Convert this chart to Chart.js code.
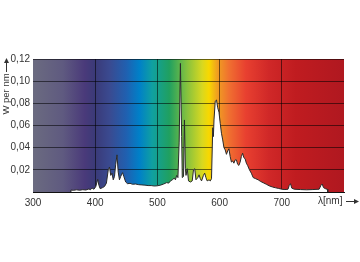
<!DOCTYPE html>
<html>
<head>
<meta charset="utf-8">
<script src="https://cdn.jsdelivr.net/npm/chart.js@4/dist/chart.umd.min.js"></script>
<style>
  html, body { margin: 0; padding: 0; background: #fff; }
  #wrap { width: 360px; height: 262px; }
</style>
</head>
<body>
<div id="wrap"><canvas id="spektrum"></canvas></div>
<script>
// Spectrum: wavelength (nm) and power (W per nm)
const dalgaBoyu = [
  360, 361, 365, 370, 375, 380, 385, 390, 392, 395, 398, 401, 404, 406, 408,
  412, 415, 418, 421, 423, 425, 427, 429, 431, 433, 435, 437, 439, 441, 444,
  446, 449, 452, 456, 460, 465, 470, 475, 480, 485, 490, 495, 500, 505, 510,
  515, 518, 521, 524, 527, 529, 531, 533, 535, 537, 539, 540, 542, 543.5, 545,
  546, 548, 550, 553, 556, 558, 560, 562, 565, 567, 569, 571, 574, 576, 578,
  580, 583, 585, 587, 589, 590, 591, 593, 595, 597, 599, 601, 603, 605, 607,
  609, 611, 613, 615, 617, 619, 621, 623, 625, 627, 629, 631, 633, 635, 637,
  639, 641, 643, 645, 648, 651, 654, 658, 662, 666, 670, 675, 680, 685, 690,
  695, 700, 705, 710, 712, 714, 716, 720, 730, 740, 750, 760, 763, 765, 767,
  770, 773, 774
];
const guc = [
  0, 0.0018, 0.0015, 0.0020, 0.0016, 0.0021, 0.0018, 0.0028, 0.0020, 0.0035, 0.0025, 0.0050, 0.0115, 0.0060, 0.0030,
  0.0040, 0.0050, 0.0080, 0.0200, 0.0225, 0.0150, 0.0170, 0.0110, 0.0140, 0.0250, 0.0335, 0.0180, 0.0110, 0.0140, 0.0175,
  0.0140, 0.0090, 0.0075, 0.0078, 0.0070, 0.0072, 0.0066, 0.0064, 0.0062, 0.0058, 0.0058, 0.0054, 0.0056, 0.0062, 0.0072,
  0.0085, 0.0080, 0.0100, 0.0110, 0.0125, 0.0110, 0.0150, 0.0130, 0.0450, 0.1160, 0.0500, 0.0130, 0.0140, 0.0650, 0.0210,
  0.0150, 0.0210, 0.0100, 0.0090, 0.0100, 0.0200, 0.0210, 0.0110, 0.0130, 0.0155, 0.0120, 0.0100, 0.0150, 0.0170, 0.0130,
  0.0100, 0.0110, 0.0100, 0.0120, 0.0580, 0.0500, 0.0650, 0.0820, 0.0830, 0.0760, 0.0720, 0.0620, 0.0530, 0.0470, 0.0400,
  0.0380, 0.0340, 0.0370, 0.0390, 0.0320, 0.0270, 0.0280, 0.0260, 0.0290, 0.0290, 0.0250, 0.0240, 0.0270, 0.0320, 0.0350,
  0.0310, 0.0300, 0.0260, 0.0240, 0.0200, 0.0170, 0.0130, 0.0120, 0.0110, 0.0095, 0.0084, 0.0070, 0.0055, 0.0045, 0.0038,
  0.0032, 0.0025, 0.0022, 0.0025, 0.0060, 0.0075, 0.0035, 0.0025, 0.0022, 0.0020, 0.0022, 0.0025, 0.0060, 0.0072, 0.0040,
  0.0030, 0.0025, 0
];
const xTikler = [300, 400, 500, 600, 700, 800];
const yTikler = [0, 0.02, 0.04, 0.06, 0.08, 0.10, 0.12];

// Colours of the visible-light band behind the plot
const bantNm = [300, 348, 383, 400, 423, 450, 471, 492, 519, 546, 572, 583, 596, 615, 642, 679, 722, 800];
const bantRenk = ['#6b6b80', '#5f5a80', '#4a3a7a', '#3a3a78', '#3a4a90', '#2060b0', '#0080c8', '#10a0a0',
  '#20a060', '#80c040', '#d8d820', '#f8d800', '#f0a020', '#f07030', '#e84030', '#d02828', '#c01c20', '#b01820'];

const yazi = '"Liberation Sans", Arial, sans-serif';

const arkaPlan = {
  id: 'arkaPlan',
  beforeDraw(chart) {
    const { ctx, chartArea: a, scales } = chart;
    const g = ctx.createLinearGradient(a.left, 0, a.right, 0);
    bantNm.forEach((nm, i) => {
      const p = (scales.x.getPixelForValue(nm) - a.left) / (a.right - a.left);
      g.addColorStop(Math.min(1, Math.max(0, p)), bantRenk[i]);
    });
    ctx.save();
    ctx.fillStyle = g;
    ctx.fillRect(a.left, a.top, a.right - a.left, a.bottom - a.top);
    ctx.restore();
  },
  afterDraw(chart) {
    const { ctx } = chart;
    ctx.save();
    ctx.fillStyle = '#333';
    ctx.strokeStyle = '#333';
    ctx.lineWidth = 1;
    ctx.font = '10px ' + yazi;
    // x axis title with arrow
    ctx.textAlign = 'left';
    ctx.textBaseline = 'middle';
    ctx.fillText('λ[nm]', 318, 201);
    ctx.beginPath();
    ctx.moveTo(346, 201.5);
    ctx.lineTo(356, 201.5);
    ctx.stroke();
    ctx.beginPath();
    ctx.moveTo(359, 201.5);
    ctx.lineTo(354, 199);
    ctx.lineTo(354, 204);
    ctx.closePath();
    ctx.fill();
    // y axis title with arrow
    ctx.font = '9.5px ' + yazi;
    ctx.translate(6, 94);
    ctx.rotate(-Math.PI / 2);
    ctx.textAlign = 'center';
    ctx.fillText('W per nm', 0, 0);
    ctx.beginPath();
    ctx.moveTo(22, 0.5);
    ctx.lineTo(33, 0.5);
    ctx.stroke();
    ctx.beginPath();
    ctx.moveTo(36, 0.5);
    ctx.lineTo(31, -2);
    ctx.lineTo(31, 3);
    ctx.closePath();
    ctx.fill();
    ctx.restore();
  }
};

const ctx = document.getElementById('spektrum');
new Chart(ctx, {
  type: 'line',
  data: {
    datasets: [{
      data: dalgaBoyu.map((nm, i) => ({ x: nm, y: guc[i] })),
      borderColor: '#2a2a2a',
      borderWidth: 1,
      backgroundColor: '#ffffff',
      fill: 'origin',
      pointRadius: 0,
      tension: 0
    }]
  },
  options: {
    responsive: true,
    maintainAspectRatio: false,
    animation: false,
    layout: { padding: { left: 0, right: 16, top: 59, bottom: 0 } },
    plugins: { legend: { display: false }, tooltip: { enabled: false } },
    scales: {
      x: {
        type: 'linear',
        min: 300,
        max: 800,
        afterFit: (s) => { s.height = 70; },
        afterBuildTicks: (s) => { s.ticks = xTikler.map((v) => ({ value: v })); },
        grid: {
          drawTicks: false,
          lineWidth: 1,
          color: (c) => (c.tick && (c.tick.value === 300 || c.tick.value === 800)) ? 'rgba(0,0,0,0)' : 'rgba(0,0,0,0.55)'
        },
        border: { display: true, color: '#111', width: 1 },
        ticks: {
          padding: 5,
          color: '#333',
          font: { family: yazi, size: 10 },
          callback: (v) => (v === 800 ? '' : String(v))
        }
      },
      y: {
        min: 0,
        max: 0.12,
        afterFit: (s) => { s.width = 33; },
        afterBuildTicks: (s) => { s.ticks = yTikler.map((v) => ({ value: v })); },
        grid: {
          drawTicks: false,
          lineWidth: 1,
          color: (c) => (c.tick && c.tick.value === 0) ? 'rgba(0,0,0,0)' : 'rgba(0,0,0,0.55)'
        },
        border: { display: false },
        ticks: {
          padding: 3,
          color: '#333',
          font: { family: yazi, size: 10 },
          callback: (v) => (v === 0 ? '' : v.toFixed(2).replace('.', ','))
        }
      }
    }
  },
  plugins: [arkaPlan]
});
</script>
</body>
</html>
